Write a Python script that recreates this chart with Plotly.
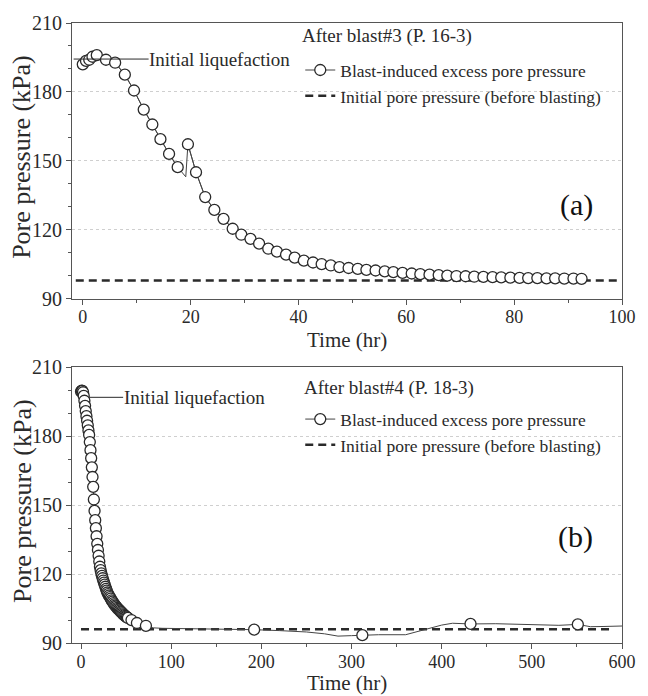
import plotly.graph_objects as go

# ---------------- Panel (a): after blast #3 (P. 16-3) ----------------
a_time = [0, 0.6, 1.2, 1.8, 2.6, 4.3, 6.0, 7.8, 9.5, 11.3, 12.9, 14.4, 16.0, 17.6, 19.1,
          19.5, 21.0, 22.7, 24.4, 26.1, 27.8, 29.4, 31.1, 32.7, 34.4, 36.0, 37.7, 39.3, 41.0, 42.7,
          44.3, 46.0, 47.6, 49.3, 51.0, 52.6, 54.3, 56.0, 57.6, 59.3, 61.0, 62.6, 64.3, 66.0, 67.6,
          69.3, 71.0, 72.6, 74.3, 76.0, 77.6, 79.3, 81.0, 82.6, 84.3, 86.0, 87.6, 89.3, 91.0, 92.5]
a_pressure = [192, 193.5, 194, 195.3, 196, 194, 192.7, 187.5, 180.6, 172.3, 165.8, 159.4, 153, 147.2, 143,
              157.2, 145, 134.2, 128.6, 124.7, 120.4, 117.8, 116, 113.9, 111.7, 110.4, 109.1, 107.8, 106.5, 105.7,
              105.0, 104.4, 103.7, 103.3, 102.9, 102.5, 102.2, 101.8, 101.5, 101.2, 100.9, 100.6, 100.4, 100.2, 100.0,
              99.8, 99.7, 99.5, 99.4, 99.3, 99.2, 99.1, 99.0, 98.9, 98.9, 98.8, 98.8, 98.7, 98.7, 98.6]
a_line_only_times = [19.1]          # recorded points drawn without a circle
a_initial_pressure = 97.8
a_initial_span = [-1.3, 99.7]
a_title = "After blast#3 (P. 16-3)"

# ---------------- Panel (b): after blast #4 (P. 18-3) ----------------
b_time = [0, 0.75, 1.5, 2.25, 3, 3.75, 4.5, 5.25, 6, 6.75, 7.5, 8.25, 9, 9.75, 10.5, 11.25, 12, 12.75,
          13.5, 14.25, 15, 15.75, 16.5, 17.25, 18, 18.75, 19.5, 20.25, 21, 21.75, 22.5, 23.25, 24, 24.75,
          25.5, 26.25, 27, 27.75, 28.5, 29.25, 30,
          31, 32, 33, 34, 35, 36, 37, 38, 39, 40, 41, 42, 43, 44, 45, 46, 47, 48, 49, 50, 51, 52, 56, 62, 72,
          80, 90, 120, 150, 170, 192, 220, 250, 270, 285, 300, 312, 330, 360, 380, 400, 412, 432,
          460, 490, 515, 530, 551, 565, 580, 600]
b_pressure = [199.5, 199.9, 199.8, 199.2, 197.6, 195.5, 193.3, 191, 188.8, 186.8, 184.8, 182.6, 180.6, 177.5,
              174, 170.5, 166.5, 162.3, 158, 152.5, 147.5, 143.5, 140, 136.5, 133.2, 130.5, 128, 125.5, 123.2,
              121.7, 120.3, 119.2, 118.2, 117.2, 116.3, 115.4, 114.5, 113.6, 112.8, 112, 111.3,
              110.6, 110.0, 109.3, 108.6, 108.0, 107.4, 106.8, 106.3, 105.8, 105.3, 104.9, 104.5, 104.1, 103.7,
              103.3, 102.9, 102.5, 102.1, 101.8, 101.5, 101.2, 100.9, 100.0, 98.7, 97.5,
              96.6, 96.4, 96.3, 96.2, 96.0, 95.8, 95.4, 94.8, 94.0, 93.0, 93.2, 93.4, 93.6, 93.6, 95.8, 97.8,
              98.6, 98.3, 98.4, 98.2, 98.1, 97.7, 98.1, 97.1, 97.2, 97.4]
b_line_only_times = [80, 90, 120, 150, 170, 220, 250, 270, 285, 300, 330, 360, 380, 400, 412,
                     460, 490, 515, 530, 565, 580, 600]
b_initial_pressure = 96.0
b_initial_span = [0, 590]
b_title = "After blast#4 (P. 18-3)"

series_name = "Blast-induced excess pore pressure"
initial_name = "Initial pore pressure (before blasting)"
note_text = "Initial liquefaction"
y_title = "Pore pressure (kPa)"
x_title = "Time (hr)"
y_ticks = [90, 120, 150, 180, 210]

# ---------------- styling ----------------
FONT = "Liberation Serif"
INK = "#2a2a2a"
AXC = "#555555"
MS = 11

fig = go.Figure()


def marked_with_gaps(t, p, line_only):
    """Circle positions; a gap (None) wherever the record continues without circles."""
    mx, my = [], []
    for ti, pi in zip(t, p):
        if ti in line_only:
            if mx and mx[-1] is not None:
                mx.append(None)
                my.append(None)
        else:
            mx.append(ti)
            my.append(pi)
    return mx, my


def add_panel(t, p, line_only, init_p, init_span, xa, ya, legend):
    fig.add_trace(go.Scatter(
        x=init_span, y=[init_p, init_p], mode="lines", name=initial_name,
        line=dict(color=INK, width=2.5, dash="8px,5px"),
        xaxis=xa, yaxis=ya, legend=legend, legendrank=2))
    # full record (line only)
    fig.add_trace(go.Scatter(
        x=t, y=p, mode="lines", name=series_name, showlegend=False,
        line=dict(color="#444444", width=1), xaxis=xa, yaxis=ya, legend=legend))
    mx, my = marked_with_gaps(t, p, line_only)
    fig.add_trace(go.Scatter(
        x=mx, y=my, mode="lines+markers", name=series_name, connectgaps=False,
        line=dict(color="#444444", width=1),
        marker=dict(symbol="circle", size=MS, color="white",
                    line=dict(color=INK, width=1.3)),
        xaxis=xa, yaxis=ya, legend=legend, legendrank=1))


add_panel(a_time, a_pressure, a_line_only_times, a_initial_pressure, a_initial_span, "x", "y", "legend")
add_panel(b_time, b_pressure, b_line_only_times, b_initial_pressure, b_initial_span, "x2", "y2", "legend2")

tickfont_x = dict(family=FONT, size=18, color=INK)
tickfont_y = dict(family=FONT, size=20, color=INK)


def xax(rng, dtick, minor, dom_anchor):
    return dict(range=rng, dtick=dtick, tick0=0, ticks="outside", ticklen=5, tickcolor=AXC,
                tickwidth=1, showline=True, linecolor=AXC, linewidth=1.2, mirror=True,
                showgrid=False, zeroline=False, tickfont=tickfont_x, anchor=dom_anchor,
                ticklabelstandoff=-3,
                minor=dict(dtick=minor, tick0=0, ticks="outside", ticklen=3, tickcolor=AXC, showgrid=False))


def yax(domain, anchor):
    return dict(range=[90, 210], domain=domain, tickvals=y_ticks, ticks="outside", ticklen=5,
                tickcolor=AXC, tickwidth=1, showline=True, linecolor=AXC, linewidth=1.2, mirror=True,
                showgrid=True, gridcolor="#cfcfcf", griddash="dot", gridwidth=1, zeroline=False,
                tickfont=tickfont_y, anchor=anchor,
                minor=dict(dtick=10, tick0=90, ticks="outside", ticklen=3, tickcolor=AXC, showgrid=False))


def mirror_x(rng, dtick, minor, over, anchor):
    return dict(range=rng, overlaying=over, anchor=anchor, side="top", dtick=dtick, tick0=0,
                ticks="inside", ticklen=5, tickcolor=AXC, showticklabels=False, showgrid=False,
                showline=False, zeroline=False,
                minor=dict(dtick=minor, tick0=0, ticks="inside", ticklen=3, tickcolor=AXC, showgrid=False))


def mirror_y(over, anchor):
    return dict(range=[90, 210], overlaying=over, anchor=anchor, side="right", tickvals=y_ticks,
                ticks="inside", ticklen=5, tickcolor=AXC, showticklabels=False, showgrid=False,
                showline=False, zeroline=False,
                minor=dict(dtick=10, tick0=90, ticks="inside", ticklen=3, tickcolor=AXC, showgrid=False))


legend_common = dict(xanchor="left", yanchor="top", bgcolor="rgba(0,0,0,0)",
                     font=dict(family=FONT, size=17.5, color=INK),
                     tracegroupgap=0, itemwidth=30)

ann = []
# axis titles
for yy in (0.488, -0.0652):
    ann.append(dict(text=x_title, x=0.5, y=yy, xref="paper", yref="paper", showarrow=False,
                    xanchor="center", yanchor="middle", borderpad=0,
                    font=dict(family=FONT, size=21, color=INK)))
for yy in (0.784, 0.229):
    ann.append(dict(text=y_title, x=-0.091, y=yy, xref="paper", yref="paper", showarrow=False,
                    xanchor="center", yanchor="middle",
                    textangle=-90, font=dict(family=FONT, size=26, color=INK)))
# legend headings
ann.append(dict(text=a_title, x=0.415, y=0.979, xref="paper", yref="paper", showarrow=False,
                xanchor="left", yanchor="middle", font=dict(family=FONT, size=19, color=INK)))
ann.append(dict(text=b_title, x=0.419, y=0.411, xref="paper", yref="paper", showarrow=False,
                xanchor="left", yanchor="middle", font=dict(family=FONT, size=19, color=INK)))
# panel letters
ann.append(dict(text="(a)", x=0.918, y=0.707, xref="paper", yref="paper", showarrow=False,
                xanchor="center", yanchor="middle",
                font=dict(family=FONT, size=30, color="#111111")))
ann.append(dict(text="(b)", x=0.916, y=0.171, xref="paper", yref="paper", showarrow=False,
                xanchor="center", yanchor="middle",
                font=dict(family=FONT, size=30, color="#111111")))
# initial liquefaction notes
ann.append(dict(text=note_text, x=-1.7, y=194.3, xref="x", yref="y", showarrow=True, arrowhead=0,
                arrowwidth=1, arrowcolor=INK, ax=146, ay=0, standoff=0, borderpad=0,
                font=dict(family=FONT, size=19, color=INK)))
ann.append(dict(text=note_text, x=9, y=197, xref="x2", yref="y2", showarrow=True, arrowhead=0,
                arrowwidth=1, arrowcolor=INK, ax=105, ay=0, standoff=0, borderpad=0,
                font=dict(family=FONT, size=19, color=INK)))

fig.update_layout(
    width=648, height=696,
    margin=dict(l=72, r=16, t=22, b=53),
    paper_bgcolor="white", plot_bgcolor="white",
    font=dict(family=FONT, color=INK),
    showlegend=True,
    xaxis=xax([-2, 100], 20, 10, "y"),
    yaxis=yax([0.5556, 1.0], "x"),
    xaxis2=xax([-10, 600], 100, 50, "y2"),
    yaxis2=yax([0.0, 0.4444], "x2"),
    xaxis3=mirror_x([-2, 100], 20, 10, "x", "y"),
    yaxis3=mirror_y("y", "x"),
    xaxis4=mirror_x([-10, 600], 100, 50, "x2", "y2"),
    yaxis4=mirror_y("y2", "x2"),
    legend=dict(x=0.415, y=0.953, **legend_common),
    legend2=dict(x=0.415, y=0.390, **legend_common),
    annotations=ann,
)

fig.write_html("out.html",
               config={"displayModeBar": False},
               post_script="document.body.style.margin='0px'; document.body.style.overflow='hidden';")
